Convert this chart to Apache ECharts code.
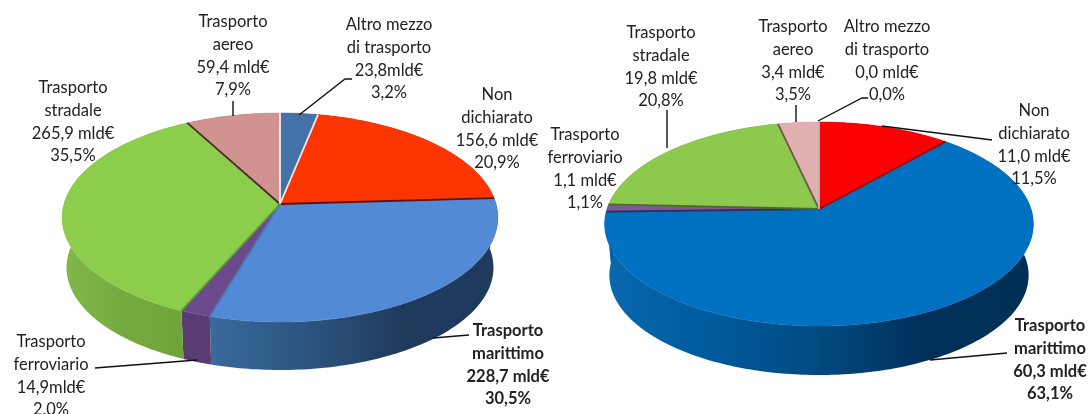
<!DOCTYPE html>
<html><head><meta charset="utf-8">
<style>html,body{margin:0;padding:0;background:#fff}#c{width:1092px;height:414px;filter:blur(0.45px)}</style>
<script src="https://cdn.jsdelivr.net/npm/echarts@6/dist/echarts.min.js"></script>
</head><body><div id="c"></div>
<script>
// ---- data ----
var categories = ['Altro mezzo di trasporto','Non dichiarato','Trasporto marittimo','Trasporto ferroviario','Trasporto stradale','Trasporto aereo'];
var valuesLeft  = [23.8,156.6,228.7,14.9,265.9,59.4];
var valuesRight = [0.0,11.0,60.3,1.1,19.8,3.4];

// ---- label texts ----
var labelsLeft = [
 ['Altro mezzo','di trasporto','23,8mld€','3,2%'],
 ['Non','dichiarato','156,6 mld€','20,9%'],
 ['Trasporto','marittimo','228,7 mld€','30,5%'],
 ['Trasporto','ferroviario','14,9mld€','2,0%'],
 ['Trasporto','stradale','265,9 mld€','35,5%'],
 ['Trasporto','aereo','59,4 mld€','7,9%']];
var labelsRight = [
 ['Altro mezzo','di trasporto','0,0 mld€','0,0%'],
 ['Non','dichiarato','11,0 mld€','11,5%'],
 ['Trasporto','marittimo','60,3 mld€','63,1%'],
 ['Trasporto','ferroviario','1,1 mld€','1,1%'],
 ['Trasporto','stradale','19,8 mld€','20,8%'],
 ['Trasporto','aereo','3,4 mld€','3,5%']];

// ---- layout & style ----
var pieL = {cx:280,apex:204,top:113,bottom:322,k:216,depth:48,shrink:.98};
var pieR = {cx:819,apex:209,top:122,bottom:326,k:212,depth:49,shrink:.978};
var topColorsL = ['#4472a8','#fb3500','#538ad5','#6b4a8c','#8ccd4c','#d19390'];
var topColorsR = ['#4472a8','#fb0000','#0070c0','#7a5a9a','#8dc94c','#e0b0b0'];
var edgeColorsL = ['#f4e8e4','#5a1510','#4a78b8','#5f9a35','#4a2a28','#f4eeee'];
var edgeColorsR = ['#f4eeee','#a00000','#3a2a50','#4a6a30','#6a5a50','#c8b0b0'];
var wallColorsL = [['#355a88','#355a88'],['#a02000','#a02000'],['#3a6a9a','#2c5580','#203a5c','#1f3a5c'],['#5a3c72','#5a3c72'],['#82b84a','#74a93f','#6ea53a'],['#8a5f5f','#8a5f5f']];
var wallColorsR = [['#355a88','#355a88'],['#a00000','#a00000'],['#0868ae','#005a9c','#004a80','#00305a','#002f55'],['#0a5a9c','#0a5a9c'],['#5f9030','#5f9030'],['#907070','#907070']];
var labelPosL = [[389,25],[497,95],[508,331],[51,342],[73,88],[233,22]];
var labelPosR = [[887,27],[1034,111],[1050,326],[585,135],[661,33],[793,27]];
var lineStep = 22.7;
var leaders = [
 [[299,115],[345,79],[352,79]],
 [[233,116],[233,101]],
 [[433,338],[469,335]],
 [[197,360],[95,368]],
 [[818,121],[862,98],[868,98]],
 [[796,122],[796,105]],
 [[667,148],[667,110]],
 [[882,126],[992,140]],
 [[930,360],[1007,353]]
];

function spans(vals){
  var sum=vals.reduce(function(a,b){return a+b},0), acc=0;
  return vals.map(function(v,i){var s=acc/sum; acc+=v; return [s,acc/sum,i];});
}
function projector(p){
  var c=(2*p.apex-p.top-p.bottom)/(p.bottom-p.top);
  var a=p.apex-p.top*(1-c);
  return function(frac,low){
    var t=frac*2*Math.PI,u=Math.sin(t),v=-Math.cos(t),w=1+c*v;
    var x=p.cx+p.k*u/w,y=(p.apex+a*v)/w;
    if(low){
      var yc=(p.top+p.bottom)/2,ry=(p.bottom-p.top)/2;
      var d=ry+p.depth-p.shrink*ry;
      x=p.cx+p.shrink*(x-p.cx); y=yc+d+p.shrink*(y-yc);
    }
    return [x,y];
  };
}
function arc(proj,s,e,low){
  var n=Math.max(2,Math.ceil((e-s)*360)),pts=[];
  for(var i=0;i<=n;i++)pts.push(proj(s+(e-s)*i/n,low));
  return pts;
}
function wallSeries(vals,p,cols){
  var proj=projector(p);
  return {type:'custom',coordinateSystem:'none',silent:true,z:1,animation:false,
    data:spans(vals),
    renderItem:function(par,api){
      var s=api.value(0),e=api.value(1),i=api.value(2);
      if(e-s<=0)return {type:'group',children:[]};
      var pts=arc(proj,s,e,false).concat(arc(proj,s,e,true).reverse());
      var stops=cols[i].map(function(c,k,l){return {offset:k/(l.length-1),color:c};});
      return {type:'polygon',shape:{points:pts},
        style:{fill:{type:'linear',x:0,y:0,x2:1,y2:0,colorStops:stops},stroke:null}};
    }};
}
function topSeries(vals,p,cols,edges){
  var proj=projector(p);
  return {type:'custom',coordinateSystem:'none',silent:true,z:2,animation:false,
    data:spans(vals),
    renderItem:function(par,api){
      var s=api.value(0),e=api.value(1),i=api.value(2);
      if(e-s<=0)return {type:'group',children:[]};
      var ap=[p.cx,p.apex];
      var pts=[ap].concat(arc(proj,s,e,false));
      return {type:'group',children:[
        {type:'polygon',shape:{points:pts},style:{fill:cols[i],stroke:cols[i],lineWidth:.5}},
        {type:'polyline',z2:5,shape:{points:[ap,proj(e,false)]},style:{fill:null,stroke:edges[i],lineWidth:1.8}}
      ]};
    }};
}
function textEls(labels,pos){
  var out=[];
  labels.forEach(function(lines,i){
    var bold=(i===2);
    lines.forEach(function(t,j){
      out.push({type:'text',z:20,x:pos[i][0],y:pos[i][1]+j*lineStep,silent:true,
        style:{text:t,align:'center',verticalAlign:'middle',fill:'#222',
          font:(bold?'bold ':'')+'16.5px Lato, "Open Sans", sans-serif'}});
    });
  });
  return out;
}
var lineEls=leaders.map(function(l){
  return {type:'polyline',z:15,silent:true,shape:{points:l},style:{fill:null,stroke:'#111',lineWidth:1.4}};
});
var chart=echarts.init(document.getElementById('c'),null,{renderer:'canvas'});
chart.setOption({
  animation:false,backgroundColor:'#fff',
  graphic:{elements:lineEls.concat(textEls(labelsLeft,labelPosL),textEls(labelsRight,labelPosR))},
  series:[wallSeries(valuesLeft,pieL,wallColorsL),wallSeries(valuesRight,pieR,wallColorsR),
          topSeries(valuesLeft,pieL,topColorsL,edgeColorsL),topSeries(valuesRight,pieR,topColorsR,edgeColorsR)]
});
</script></body></html>
